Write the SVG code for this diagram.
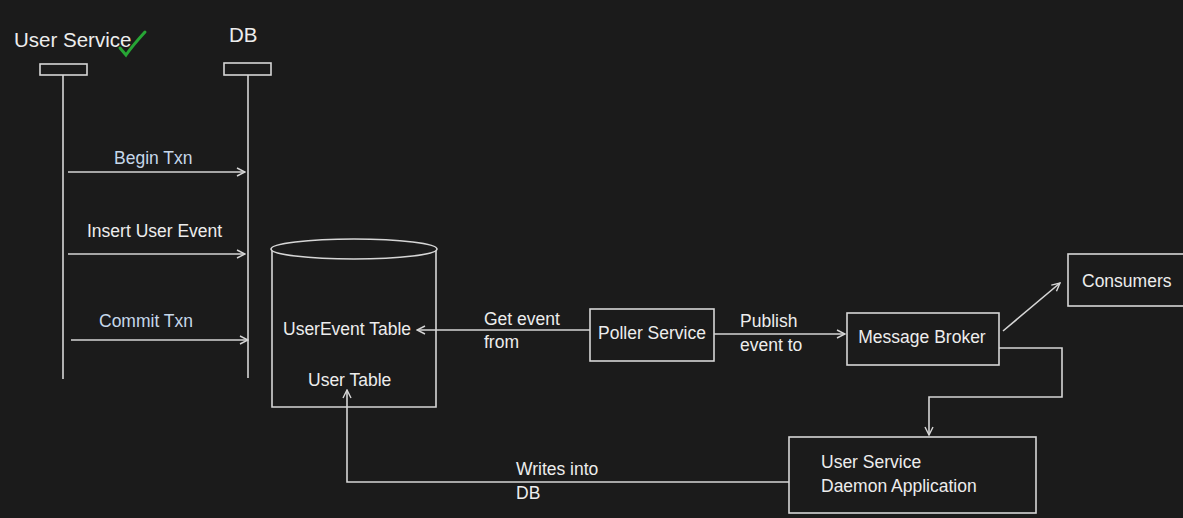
<svg xmlns="http://www.w3.org/2000/svg" width="1183" height="518" viewBox="0 0 1183 518">
<defs>
<marker id="arr" viewBox="0 0 10 10" refX="9" refY="5" markerWidth="10" markerHeight="10" markerUnits="userSpaceOnUse" orient="auto">
<path d="M1,1 L9,5 L1,9" fill="none" stroke="#d6d6d6" stroke-width="1.4"/>
</marker>
<style>
.ln{fill:none;stroke:#d6d6d6;stroke-width:1.6}
.bx{fill:#1b1b1b;stroke:#d6d6d6;stroke-width:1.6}
.t{font-family:"Liberation Sans",Arial,sans-serif;font-size:17.5px;fill:#ededed}
.b{fill:#c6d7ea}
.h{font-size:20.5px}
</style>
</defs>
<rect width="1183" height="518" fill="#1b1b1b"/>

<g id="user-service-lifeline">
<text class="t h" x="14" y="47">User Service</text>
<path d="M120,48 L126,55 Q133,45 145,32" fill="none" stroke="#27a535" stroke-width="3" stroke-linecap="round"/>
<rect class="bx" x="40" y="64" width="47" height="11"/>
<line class="ln" x1="63" y1="75" x2="63" y2="379"/>
</g>

<g id="db-lifeline">
<text class="t h" x="229" y="42">DB</text>
<rect class="bx" x="224" y="63" width="47" height="12"/>
<line class="ln" x1="248" y1="75" x2="248" y2="378"/>
</g>

<g id="db-cylinder">
<path class="bx" d="M272,249 L272,407 L436,407 L436,249"/>
<ellipse class="bx" cx="354" cy="249" rx="83" ry="10"/>
<text class="t" x="283" y="335">UserEvent Table</text>
<text class="t" x="308" y="386">User Table</text>
</g>

<g id="poller-service">
<rect class="bx" x="590" y="309" width="124" height="52"/>
<text class="t" x="652" y="339" text-anchor="middle">Poller Service</text>
</g>

<g id="message-broker">
<rect class="bx" x="847" y="313" width="152" height="52"/>
<text class="t" x="922" y="343" text-anchor="middle">Message Broker</text>
</g>

<g id="consumers">
<rect class="bx" x="1068" y="254" width="125" height="52"/>
<text class="t" x="1082" y="287">Consumers</text>
</g>

<g id="daemon">
<rect class="bx" x="789" y="437" width="247" height="76"/>
<text class="t" x="821" y="468">User Service</text>
<text class="t" x="821" y="492">Daemon Application</text>
</g>

<g id="connectors">
<line class="ln" x1="68" y1="172" x2="245" y2="172" marker-end="url(#arr)"/>
<text class="t b" x="114" y="164">Begin Txn</text>
<line class="ln" x1="68" y1="254" x2="245" y2="254" marker-end="url(#arr)"/>
<text class="t" x="87" y="237">Insert User Event</text>
<line class="ln" x1="71" y1="340" x2="248" y2="340" marker-end="url(#arr)"/>
<text class="t b" x="99" y="327">Commit Txn</text>

<line class="ln" x1="590" y1="330" x2="417" y2="330" marker-end="url(#arr)"/>
<text class="t" x="484" y="325">Get event</text>
<text class="t" x="484" y="348">from</text>

<line class="ln" x1="714" y1="334" x2="845" y2="334" marker-end="url(#arr)"/>
<text class="t" x="740" y="327">Publish</text>
<text class="t" x="740" y="351">event to</text>

<line class="ln" x1="1003" y1="331" x2="1060" y2="283" marker-end="url(#arr)"/>

<polyline class="ln" points="999,348 1062,348 1062,397 929,397 929,435" marker-end="url(#arr)"/>

<polyline class="ln" points="789,482 347,482 347,390" marker-end="url(#arr)"/>
<text class="t" x="516" y="475">Writes into</text>
<text class="t" x="516" y="499">DB</text>
</g>
</svg>
